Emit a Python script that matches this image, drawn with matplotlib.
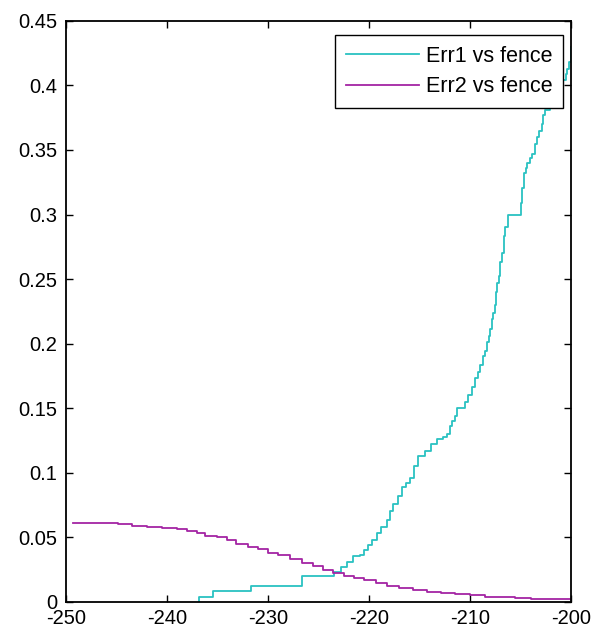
import numpy as np
import matplotlib
matplotlib.use("Agg")
from matplotlib import pyplot as plt

# Err1 vs fence (step curve, value changes at each x)
fence1 = [-236.8, -235.4, -231.65, -226.6, -223.5, -222.8, -222.2, -221.55, -220.9, -220.5,
          -220.1, -219.7, -219.2, -218.8, -218.2, -217.9, -217.6, -217.1, -216.7, -216.3,
          -215.9, -215.5, -215.1, -214.5, -213.9, -213.3, -212.7, -212.3, -211.95, -211.75,
          -211.45, -211.3, -210.45, -210.15, -209.85, -209.5, -209.2, -209.0, -208.7, -208.5,
          -208.3, -208.15, -208.0, -207.8, -207.7, -207.5, -207.4, -207.3, -207.15, -207.0,
          -206.85, -206.65, -206.5, -206.2, -205.2, -205.0, -204.85, -204.7, -204.5, -204.35,
          -204.1, -203.85, -203.6, -203.4, -203.2, -202.9, -202.75, -202.55, -202.05, -201.45,
          -200.95, -200.55, -200.4, -200.25, -200.05, -200.0]
err1 = [0.004, 0.0085, 0.012, 0.0198, 0.023, 0.027, 0.031, 0.035, 0.036, 0.040,
        0.0436, 0.048, 0.053, 0.058, 0.063, 0.0705, 0.076, 0.082, 0.0885, 0.092,
        0.096, 0.105, 0.113, 0.117, 0.122, 0.126, 0.1275, 0.130, 0.136, 0.140,
        0.144, 0.150, 0.155, 0.160, 0.1667, 0.173, 0.178, 0.183, 0.190, 0.194,
        0.201, 0.206, 0.2115, 0.219, 0.224, 0.2295, 0.240, 0.247, 0.2525, 0.263,
        0.2705, 0.283, 0.290, 0.300, 0.300, 0.309, 0.3205, 0.332, 0.336, 0.340,
        0.3435, 0.347, 0.355, 0.360, 0.365, 0.3705, 0.377, 0.381, 0.390, 0.398,
        0.404, 0.409, 0.413, 0.418, 0.422, 0.430]

# Err2 vs fence
fence2 = [-249.3, -247.0, -244.8, -243.5, -242.0, -240.5, -239.0, -238.0, -237.0, -236.2,
          -235.0, -234.0, -233.2, -232.0, -231.0, -230.0, -229.0, -227.8, -226.6, -225.5,
          -224.5, -223.6, -222.5, -221.5, -220.5, -219.3, -218.2, -217.0, -215.6, -214.3,
          -212.9, -211.5, -210.0, -208.5, -207.0, -205.5, -204.0, -202.5, -200.0]
err2 = [0.0608, 0.0607, 0.0600, 0.0590, 0.0580, 0.0570, 0.0560, 0.0548, 0.0530, 0.0508,
        0.0500, 0.0480, 0.0450, 0.0425, 0.0405, 0.0375, 0.0360, 0.0334, 0.0300, 0.0275,
        0.0248, 0.0225, 0.0200, 0.0183, 0.0165, 0.0142, 0.0122, 0.0108, 0.0090, 0.0078,
        0.0068, 0.0058, 0.0048, 0.0040, 0.0033, 0.0028, 0.0024, 0.0021, 0.0019]

plt.rcParams['font.family'] = ['Liberation Sans', 'DejaVu Sans']
plt.rcParams['axes.unicode_minus'] = False

fig = plt.figure(figsize=(5.93, 6.34), dpi=100)
ax = fig.add_axes([0.111, 0.051, 0.852, 0.916])

# prepend zero so the first step starts from the axis
ax.step([fence1[0]] + fence1, [0.0] + err1, where='post', color='#2ac2c2', lw=1.3,
        label='Err1 vs fence')
ax.step(fence2, err2, where='post', color='#a424a4', lw=1.3, label='Err2 vs fence')

ax.set_xlim(-250, -200)
ax.set_ylim(0, 0.45)
ax.set_xticks(np.arange(-250, -199, 10))
ax.set_yticks(np.arange(0, 0.451, 0.05))
ax.set_yticklabels(['0', '0.05', '0.1', '0.15', '0.2', '0.25', '0.3', '0.35', '0.4', '0.45'])
ax.tick_params(direction='in', top=True, right=True, length=5, width=1, labelsize=14.5)
ax.tick_params(axis='x', pad=5.5)
ax.tick_params(axis='y', pad=6)
for s in ax.spines.values():
    s.set_linewidth(1.3)

leg = ax.legend(loc='upper right', bbox_to_anchor=(0.984, 0.976), fontsize=15.5,
                handlelength=3.4, handletextpad=0.3, fancybox=False, edgecolor='black',
                framealpha=1, borderaxespad=0, labelspacing=0.45, borderpad=0.5)
leg.get_frame().set_linewidth(1.0)

fig.savefig('out.png', dpi=100)
